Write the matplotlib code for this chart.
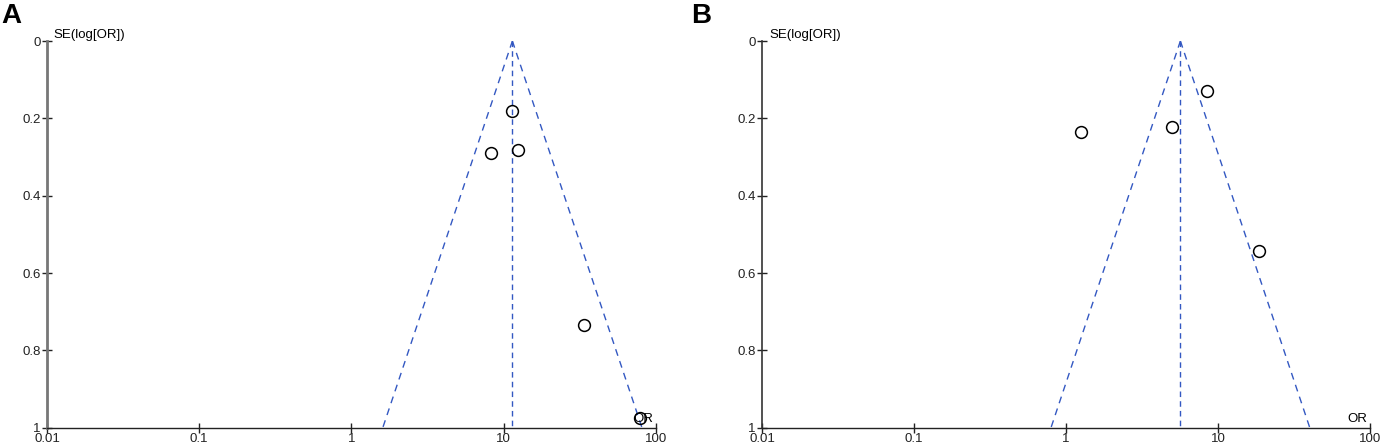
import numpy as np
import matplotlib
matplotlib.use("Agg")
from matplotlib import pyplot as plt

plt.rcParams['font.family'] = ['Liberation Sans', 'DejaVu Sans']

# panel A: study odds ratios and standard errors of log(OR)
or_a = [11.4, 8.24, 12.35, 33.5, 78.5]
se_a = [0.182, 0.290, 0.282, 0.734, 0.976]
pooled_a = 11.4

# panel B
or_b = [8.51, 4.98, 1.26, 18.6]
se_b = [0.128, 0.222, 0.235, 0.544]
pooled_b = 5.65

x_ticks = [0.01, 0.1, 1, 10, 100]
x_labels = ['0.01', '0.1', '1', '10', '100']
y_ticks = [0, 0.2, 0.4, 0.6, 0.8, 1]
y_labels = ['0', '0.2', '0.4', '0.6', '0.8', '1']

line_col = '#3358c2'


def funnel(ax, ors, ses, pooled, spine_col, spine_w):
    se_max = 1.0
    lo = pooled * np.exp(-1.96 * se_max)
    hi = pooled * np.exp(1.96 * se_max)
    ax.plot([pooled, pooled], [0, se_max], color=line_col, lw=1.0,
            ls=(0, (4, 3)))
    ax.plot([pooled, lo], [0, se_max], color=line_col, lw=1.0, ls=(0, (5, 4)))
    ax.plot([pooled, hi], [0, se_max], color=line_col, lw=1.0, ls=(0, (5, 4)))
    ax.plot(ors, ses, 'o', mfc='none', mec='black', ms=8.5, mew=1.1,
            clip_on=False)

    ax.set_xscale('log')
    ax.set_xlim(0.01, 100)
    ax.set_ylim(1, 0)
    ax.set_xticks(x_ticks)
    ax.set_xticklabels(x_labels)
    ax.xaxis.set_minor_locator(matplotlib.ticker.NullLocator())
    ax.set_yticks(y_ticks)
    ax.set_yticklabels(y_labels)

    for s in ['top', 'right']:
        ax.spines[s].set_visible(False)
    ax.spines['left'].set_color(spine_col)
    ax.spines['left'].set_linewidth(spine_w)
    ax.spines['bottom'].set_color('#222222')
    ax.spines['bottom'].set_linewidth(1.0)
    ax.tick_params(direction='inout', length=7, width=1.0, labelsize=9.5,
                   colors='#222222', pad=0)
    ax.tick_params(axis='y', pad=1)

    ax.annotate('SE(log[OR])', xy=(0, 1), xycoords='axes fraction',
                xytext=(5, 4), textcoords='offset points', fontsize=9.5,
                ha='left', va='center')
    ax.annotate('OR', xy=(1, 0), xycoords='axes fraction',
                xytext=(-2, 2), textcoords='offset points', fontsize=9.5,
                ha='right', va='bottom')


fig = plt.figure(figsize=(13.81, 4.46), dpi=100)
ax_a = fig.add_axes([0.0340, 0.041, 0.4410, 0.867])
ax_b = fig.add_axes([0.5518, 0.041, 0.4403, 0.867])

funnel(ax_a, or_a, se_a, pooled_a, '#777777', 2.0)
funnel(ax_b, or_b, se_b, pooled_b, '#333333', 1.2)

fig.text(0.001, 0.993, 'A', fontsize=20, fontweight='bold', va='top')
fig.text(0.5005, 0.993, 'B', fontsize=20, fontweight='bold', va='top')

fig.savefig('out.png', dpi=100)
